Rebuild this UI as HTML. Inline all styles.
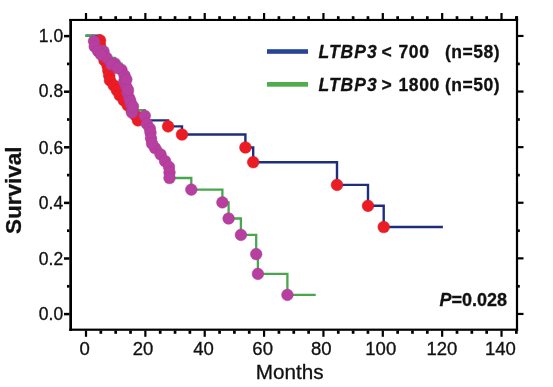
<!DOCTYPE html>
<html><head><meta charset="utf-8"><style>
html,body{margin:0;padding:0;background:#fff;}
body{width:553px;height:387px;overflow:hidden;}
svg{display:block;will-change:transform;font-family:"Liberation Sans",sans-serif;}
text{stroke:#111;stroke-width:0.3px;}
</style></head><body>
<svg width="553" height="387" viewBox="0 0 553 387">
<rect width="553" height="387" fill="#fff"/>
<rect x="69.3" y="19" width="2.7" height="312" fill="#000"/>
<rect x="69.3" y="18.9" width="448.8" height="2.1" fill="#000"/>
<rect x="69.3" y="328.6" width="448.8" height="2.2" fill="#000"/>
<rect x="515.9" y="16.2" width="2.2" height="314.7" fill="#000"/>
<rect x="84.90" y="13" width="2.2" height="6" fill="#000"/>
<rect x="84.90" y="330.5" width="2.2" height="6.3" fill="#000"/>
<rect x="99.49" y="16.2" width="2.7" height="3" fill="#000"/>
<rect x="99.49" y="330.5" width="2.7" height="3.3" fill="#000"/>
<rect x="114.33" y="16.2" width="2.7" height="3" fill="#000"/>
<rect x="114.33" y="330.5" width="2.7" height="3.3" fill="#000"/>
<rect x="129.17" y="16.2" width="2.7" height="3" fill="#000"/>
<rect x="129.17" y="330.5" width="2.7" height="3.3" fill="#000"/>
<rect x="144.26" y="13" width="2.2" height="6" fill="#000"/>
<rect x="144.26" y="330.5" width="2.2" height="6.3" fill="#000"/>
<rect x="158.85" y="16.2" width="2.7" height="3" fill="#000"/>
<rect x="158.85" y="330.5" width="2.7" height="3.3" fill="#000"/>
<rect x="173.69" y="16.2" width="2.7" height="3" fill="#000"/>
<rect x="173.69" y="330.5" width="2.7" height="3.3" fill="#000"/>
<rect x="188.53" y="16.2" width="2.7" height="3" fill="#000"/>
<rect x="188.53" y="330.5" width="2.7" height="3.3" fill="#000"/>
<rect x="203.62" y="13" width="2.2" height="6" fill="#000"/>
<rect x="203.62" y="330.5" width="2.2" height="6.3" fill="#000"/>
<rect x="218.21" y="16.2" width="2.7" height="3" fill="#000"/>
<rect x="218.21" y="330.5" width="2.7" height="3.3" fill="#000"/>
<rect x="233.05" y="16.2" width="2.7" height="3" fill="#000"/>
<rect x="233.05" y="330.5" width="2.7" height="3.3" fill="#000"/>
<rect x="247.89" y="16.2" width="2.7" height="3" fill="#000"/>
<rect x="247.89" y="330.5" width="2.7" height="3.3" fill="#000"/>
<rect x="262.98" y="13" width="2.2" height="6" fill="#000"/>
<rect x="262.98" y="330.5" width="2.2" height="6.3" fill="#000"/>
<rect x="277.57" y="16.2" width="2.7" height="3" fill="#000"/>
<rect x="277.57" y="330.5" width="2.7" height="3.3" fill="#000"/>
<rect x="292.41" y="16.2" width="2.7" height="3" fill="#000"/>
<rect x="292.41" y="330.5" width="2.7" height="3.3" fill="#000"/>
<rect x="307.25" y="16.2" width="2.7" height="3" fill="#000"/>
<rect x="307.25" y="330.5" width="2.7" height="3.3" fill="#000"/>
<rect x="322.34" y="13" width="2.2" height="6" fill="#000"/>
<rect x="322.34" y="330.5" width="2.2" height="6.3" fill="#000"/>
<rect x="336.93" y="16.2" width="2.7" height="3" fill="#000"/>
<rect x="336.93" y="330.5" width="2.7" height="3.3" fill="#000"/>
<rect x="351.77" y="16.2" width="2.7" height="3" fill="#000"/>
<rect x="351.77" y="330.5" width="2.7" height="3.3" fill="#000"/>
<rect x="366.61" y="16.2" width="2.7" height="3" fill="#000"/>
<rect x="366.61" y="330.5" width="2.7" height="3.3" fill="#000"/>
<rect x="381.70" y="13" width="2.2" height="6" fill="#000"/>
<rect x="381.70" y="330.5" width="2.2" height="6.3" fill="#000"/>
<rect x="396.29" y="16.2" width="2.7" height="3" fill="#000"/>
<rect x="396.29" y="330.5" width="2.7" height="3.3" fill="#000"/>
<rect x="411.13" y="16.2" width="2.7" height="3" fill="#000"/>
<rect x="411.13" y="330.5" width="2.7" height="3.3" fill="#000"/>
<rect x="425.97" y="16.2" width="2.7" height="3" fill="#000"/>
<rect x="425.97" y="330.5" width="2.7" height="3.3" fill="#000"/>
<rect x="441.06" y="13" width="2.2" height="6" fill="#000"/>
<rect x="441.06" y="330.5" width="2.2" height="6.3" fill="#000"/>
<rect x="455.65" y="16.2" width="2.7" height="3" fill="#000"/>
<rect x="455.65" y="330.5" width="2.7" height="3.3" fill="#000"/>
<rect x="470.49" y="16.2" width="2.7" height="3" fill="#000"/>
<rect x="470.49" y="330.5" width="2.7" height="3.3" fill="#000"/>
<rect x="485.33" y="16.2" width="2.7" height="3" fill="#000"/>
<rect x="485.33" y="330.5" width="2.7" height="3.3" fill="#000"/>
<rect x="500.42" y="13" width="2.2" height="6" fill="#000"/>
<rect x="500.42" y="330.5" width="2.2" height="6.3" fill="#000"/>
<rect x="515.01" y="16.2" width="2.7" height="3" fill="#000"/>
<rect x="515.01" y="330.5" width="2.7" height="3.3" fill="#000"/>
<rect x="64" y="312.85" width="5.5" height="2.5" fill="#000"/>
<rect x="518" y="312.85" width="5.5" height="2.2" fill="#000"/>
<rect x="67" y="284.95" width="2.5" height="2.7" fill="#000"/>
<rect x="518" y="284.95" width="1.8" height="2.7" fill="#000"/>
<rect x="64" y="257.25" width="5.5" height="2.5" fill="#000"/>
<rect x="518" y="257.25" width="5.5" height="2.2" fill="#000"/>
<rect x="67" y="229.35" width="2.5" height="2.7" fill="#000"/>
<rect x="518" y="229.35" width="1.8" height="2.7" fill="#000"/>
<rect x="64" y="201.65" width="5.5" height="2.5" fill="#000"/>
<rect x="518" y="201.65" width="5.5" height="2.2" fill="#000"/>
<rect x="67" y="173.75" width="2.5" height="2.7" fill="#000"/>
<rect x="518" y="173.75" width="1.8" height="2.7" fill="#000"/>
<rect x="64" y="146.05" width="5.5" height="2.5" fill="#000"/>
<rect x="518" y="146.05" width="5.5" height="2.2" fill="#000"/>
<rect x="67" y="118.15" width="2.5" height="2.7" fill="#000"/>
<rect x="518" y="118.15" width="1.8" height="2.7" fill="#000"/>
<rect x="64" y="90.45" width="5.5" height="2.5" fill="#000"/>
<rect x="518" y="90.45" width="5.5" height="2.2" fill="#000"/>
<rect x="67" y="62.55" width="2.5" height="2.7" fill="#000"/>
<rect x="518" y="62.55" width="1.8" height="2.7" fill="#000"/>
<rect x="64" y="34.85" width="5.5" height="2.5" fill="#000"/>
<rect x="518" y="34.85" width="5.5" height="2.2" fill="#000"/>
<rect x="267" y="49.2" width="41" height="4.6" fill="#27449a"/>
<rect x="267" y="82" width="41" height="4.7" fill="#4fad50"/>
<path d="M86,35.6 H100 V40.4 H100 V45.4 H101.5 V50.4 H104.5 V56.5 H104.5 V60.4 H107.5 V65.4 H108.3 V70.4 H109.2 V75.4 H110 V80.4 H113.8 V85.4 H117 V90.4 H119.8 V95.4 H123.8 V100.4 H127.8 V105.4 H131.7 V110.4 H135.5 V115.4 H138 V120.4 H168.1 V126.4 H182 V134.5 H245.4 V147.5 H253.2 V162.2 H337 V184.9 H368 V205.8 H383.7 V227.0 H442.9" fill="none" stroke="#1f2e7c" stroke-width="2.4"/>
<circle cx="100" cy="40.4" r="5.85" fill="#ec1c24" stroke="#d81a22" stroke-width="0.5"/>
<circle cx="100" cy="45.4" r="5.85" fill="#ec1c24" stroke="#d81a22" stroke-width="0.5"/>
<circle cx="101.5" cy="50.4" r="5.85" fill="#ec1c24" stroke="#d81a22" stroke-width="0.5"/>
<circle cx="104.5" cy="56.5" r="5.85" fill="#ec1c24" stroke="#d81a22" stroke-width="0.5"/>
<circle cx="104.5" cy="60.4" r="5.85" fill="#ec1c24" stroke="#d81a22" stroke-width="0.5"/>
<circle cx="107.5" cy="65.4" r="5.85" fill="#ec1c24" stroke="#d81a22" stroke-width="0.5"/>
<circle cx="108.3" cy="70.4" r="5.85" fill="#ec1c24" stroke="#d81a22" stroke-width="0.5"/>
<circle cx="109.2" cy="75.4" r="5.85" fill="#ec1c24" stroke="#d81a22" stroke-width="0.5"/>
<circle cx="110" cy="80.4" r="5.85" fill="#ec1c24" stroke="#d81a22" stroke-width="0.5"/>
<circle cx="113.8" cy="85.4" r="5.85" fill="#ec1c24" stroke="#d81a22" stroke-width="0.5"/>
<circle cx="117" cy="90.4" r="5.85" fill="#ec1c24" stroke="#d81a22" stroke-width="0.5"/>
<circle cx="119.8" cy="95.4" r="5.85" fill="#ec1c24" stroke="#d81a22" stroke-width="0.5"/>
<circle cx="123.8" cy="100.4" r="5.85" fill="#ec1c24" stroke="#d81a22" stroke-width="0.5"/>
<circle cx="127.8" cy="105.4" r="5.85" fill="#ec1c24" stroke="#d81a22" stroke-width="0.5"/>
<circle cx="131.7" cy="110.4" r="5.85" fill="#ec1c24" stroke="#d81a22" stroke-width="0.5"/>
<circle cx="135.5" cy="115.4" r="5.85" fill="#ec1c24" stroke="#d81a22" stroke-width="0.5"/>
<circle cx="138" cy="120.4" r="5.85" fill="#ec1c24" stroke="#d81a22" stroke-width="0.5"/>
<circle cx="168.1" cy="126.4" r="5.85" fill="#ec1c24" stroke="#d81a22" stroke-width="0.5"/>
<circle cx="182" cy="134.5" r="5.85" fill="#ec1c24" stroke="#d81a22" stroke-width="0.5"/>
<circle cx="245.4" cy="147.5" r="5.85" fill="#ec1c24" stroke="#d81a22" stroke-width="0.5"/>
<circle cx="253.2" cy="162.2" r="5.85" fill="#ec1c24" stroke="#d81a22" stroke-width="0.5"/>
<circle cx="337" cy="184.9" r="5.85" fill="#ec1c24" stroke="#d81a22" stroke-width="0.5"/>
<circle cx="368" cy="205.8" r="5.85" fill="#ec1c24" stroke="#d81a22" stroke-width="0.5"/>
<circle cx="383.7" cy="227.0" r="5.85" fill="#ec1c24" stroke="#d81a22" stroke-width="0.5"/>
<path d="M85,35.7 H94 V41.2 H94.7 V46.5 H103.5 V51.3 H106.7 V57.9 H115 V63.7 H121.5 V69.8 H124.5 V75.5 H124.3 V81.3 H126.3 V86.7 H127.5 V92.7 H129.3 V98.4 H131 V104.1 H132.5 V110.2 H144.8 V115.8 H146.8 V123.8 H149.8 V128.5 H150.5 V132.6 H151 V138.3 H155 V148 H160.5 V154.3 H165 V161 H169 V166.8 H169.5 V172.4 H169.5 V178 H191.3 V189.6 H222.4 V202.4 H228.6 V218.5 H240.9 V234.9 H256.2 V254.1 H257.9 V273.9 H287.4 V294.9 H315.7" fill="none" stroke="#4aa64e" stroke-width="2.3"/>
<circle cx="94" cy="41.2" r="5.85" fill="#b73fa0" stroke="#a73894" stroke-width="0.45"/>
<circle cx="94.7" cy="46.5" r="5.85" fill="#b73fa0" stroke="#a73894" stroke-width="0.45"/>
<circle cx="103.5" cy="51.3" r="5.85" fill="#b73fa0" stroke="#a73894" stroke-width="0.45"/>
<circle cx="106.7" cy="57.9" r="5.85" fill="#b73fa0" stroke="#a73894" stroke-width="0.45"/>
<circle cx="115" cy="63.7" r="5.85" fill="#b73fa0" stroke="#a73894" stroke-width="0.45"/>
<circle cx="121.5" cy="69.8" r="5.85" fill="#b73fa0" stroke="#a73894" stroke-width="0.45"/>
<circle cx="124.5" cy="75.5" r="5.85" fill="#b73fa0" stroke="#a73894" stroke-width="0.45"/>
<circle cx="124.3" cy="81.3" r="5.85" fill="#b73fa0" stroke="#a73894" stroke-width="0.45"/>
<circle cx="126.3" cy="86.7" r="5.85" fill="#b73fa0" stroke="#a73894" stroke-width="0.45"/>
<circle cx="127.5" cy="92.7" r="5.85" fill="#b73fa0" stroke="#a73894" stroke-width="0.45"/>
<circle cx="129.3" cy="98.4" r="5.85" fill="#b73fa0" stroke="#a73894" stroke-width="0.45"/>
<circle cx="131" cy="104.1" r="5.85" fill="#b73fa0" stroke="#a73894" stroke-width="0.45"/>
<circle cx="132.5" cy="110.2" r="5.85" fill="#b73fa0" stroke="#a73894" stroke-width="0.45"/>
<circle cx="144.8" cy="115.8" r="5.85" fill="#b73fa0" stroke="#a73894" stroke-width="0.45"/>
<circle cx="146.8" cy="123.8" r="5.85" fill="#b73fa0" stroke="#a73894" stroke-width="0.45"/>
<circle cx="149.8" cy="128.5" r="5.85" fill="#b73fa0" stroke="#a73894" stroke-width="0.45"/>
<circle cx="150.5" cy="132.6" r="5.85" fill="#b73fa0" stroke="#a73894" stroke-width="0.45"/>
<circle cx="151" cy="138.3" r="5.85" fill="#b73fa0" stroke="#a73894" stroke-width="0.45"/>
<circle cx="155" cy="148" r="5.85" fill="#b73fa0" stroke="#a73894" stroke-width="0.45"/>
<circle cx="160.5" cy="154.3" r="5.85" fill="#b73fa0" stroke="#a73894" stroke-width="0.45"/>
<circle cx="165" cy="161" r="5.85" fill="#b73fa0" stroke="#a73894" stroke-width="0.45"/>
<circle cx="169" cy="166.8" r="5.85" fill="#b73fa0" stroke="#a73894" stroke-width="0.45"/>
<circle cx="169.5" cy="172.4" r="5.85" fill="#b73fa0" stroke="#a73894" stroke-width="0.45"/>
<circle cx="169.5" cy="178" r="5.85" fill="#b73fa0" stroke="#a73894" stroke-width="0.45"/>
<circle cx="191.3" cy="189.6" r="5.85" fill="#b73fa0" stroke="#a73894" stroke-width="0.45"/>
<circle cx="222.4" cy="202.4" r="5.85" fill="#b73fa0" stroke="#a73894" stroke-width="0.45"/>
<circle cx="228.6" cy="218.5" r="5.85" fill="#b73fa0" stroke="#a73894" stroke-width="0.45"/>
<circle cx="240.9" cy="234.9" r="5.85" fill="#b73fa0" stroke="#a73894" stroke-width="0.45"/>
<circle cx="256.2" cy="254.1" r="5.85" fill="#b73fa0" stroke="#a73894" stroke-width="0.45"/>
<circle cx="257.9" cy="273.9" r="5.85" fill="#b73fa0" stroke="#a73894" stroke-width="0.45"/>
<circle cx="287.4" cy="294.9" r="5.85" fill="#b73fa0" stroke="#a73894" stroke-width="0.45"/>
<circle cx="132" cy="112.5" r="5.85" fill="#b73fa0" stroke="#a73894" stroke-width="0.45"/>
<circle cx="111.5" cy="64.5" r="5.85" fill="#b73fa0" stroke="#a73894" stroke-width="0.45"/>
<circle cx="98" cy="51" r="5.85" fill="#b73fa0" stroke="#a73894" stroke-width="0.45"/>
<circle cx="101" cy="54.5" r="5.85" fill="#b73fa0" stroke="#a73894" stroke-width="0.45"/>
<circle cx="117.5" cy="68" r="5.85" fill="#b73fa0" stroke="#a73894" stroke-width="0.45"/>
<circle cx="152" cy="143.5" r="5.85" fill="#b73fa0" stroke="#a73894" stroke-width="0.45"/>
<circle cx="126.3" cy="79.5" r="5.85" fill="#b73fa0" stroke="#a73894" stroke-width="0.45"/>
<circle cx="128" cy="90" r="5.85" fill="#b73fa0" stroke="#a73894" stroke-width="0.45"/>
<circle cx="130.3" cy="101" r="5.85" fill="#b73fa0" stroke="#a73894" stroke-width="0.45"/>
<circle cx="133" cy="106.5" r="5.85" fill="#b73fa0" stroke="#a73894" stroke-width="0.45"/>
<text x="63.2" y="319.90" text-anchor="end" font-size="17.5" fill="#111">0.0</text>
<text x="63.2" y="265.02" text-anchor="end" font-size="17.5" fill="#111">0.2</text>
<text x="63.2" y="208.70" text-anchor="end" font-size="17.5" fill="#111">0.4</text>
<text x="63.2" y="153.82" text-anchor="end" font-size="17.5" fill="#111">0.6</text>
<text x="63.2" y="97.20" text-anchor="end" font-size="17.5" fill="#111">0.8</text>
<text x="63.2" y="41.90" text-anchor="end" font-size="17.5" fill="#111">1.0</text>
<text transform="translate(84.55,354.5) scale(1.06,1)" x="0" y="0" text-anchor="middle" font-size="17.5" fill="#111">0</text>
<text transform="translate(143.06,354.5) scale(1.06,1)" x="0" y="0" text-anchor="middle" font-size="17.5" fill="#111">20</text>
<text transform="translate(203.61,354.5) scale(1.06,1)" x="0" y="0" text-anchor="middle" font-size="17.5" fill="#111">40</text>
<text transform="translate(262.63,354.5) scale(1.06,1)" x="0" y="0" text-anchor="middle" font-size="17.5" fill="#111">60</text>
<text transform="translate(321.24,354.5) scale(1.06,1)" x="0" y="0" text-anchor="middle" font-size="17.5" fill="#111">80</text>
<text transform="translate(380.75,354.5) scale(1.06,1)" x="0" y="0" text-anchor="middle" font-size="17.5" fill="#111">100</text>
<text transform="translate(441.91,354.5) scale(1.06,1)" x="0" y="0" text-anchor="middle" font-size="17.5" fill="#111">120</text>
<text transform="translate(500.40,354.5) scale(1.06,1)" x="0" y="0" text-anchor="middle" font-size="17.5" fill="#111">140</text>
<text x="289.7" y="378.6" text-anchor="middle" font-size="20.7" fill="#111">Months</text>
<text transform="translate(20.5,190.3) rotate(-90)" text-anchor="middle" font-size="22.5" font-weight="bold" fill="#111">Survival</text>
<text x="318.5" y="58.2" font-size="17.5" font-weight="bold" font-style="italic" letter-spacing="1.0" fill="#111">LTBP3</text>
<text x="381.5" y="58.2" font-size="17.5" font-weight="bold" fill="#111">&lt;</text>
<text x="398.5" y="58.2" font-size="17.5" font-weight="bold" letter-spacing="0.6" fill="#111">700</text>
<text x="445" y="58.2" font-size="17.5" font-weight="bold" letter-spacing="0.5" fill="#111">(n=58)</text>
<text x="318.5" y="91.0" font-size="17.5" font-weight="bold" font-style="italic" letter-spacing="1.0" fill="#111">LTBP3</text>
<text x="381.5" y="91.0" font-size="17.5" font-weight="bold" fill="#111">&gt;</text>
<text x="398.5" y="91.0" font-size="17.5" font-weight="bold" letter-spacing="0.6" fill="#111">1800</text>
<text x="445" y="91.0" font-size="17.5" font-weight="bold" letter-spacing="0.5" fill="#111">(n=50)</text>
<text x="439.5" y="306" font-size="18" font-weight="bold" fill="#111"><tspan font-style="italic">P</tspan>=0.028</text>
</svg>
</body></html>
